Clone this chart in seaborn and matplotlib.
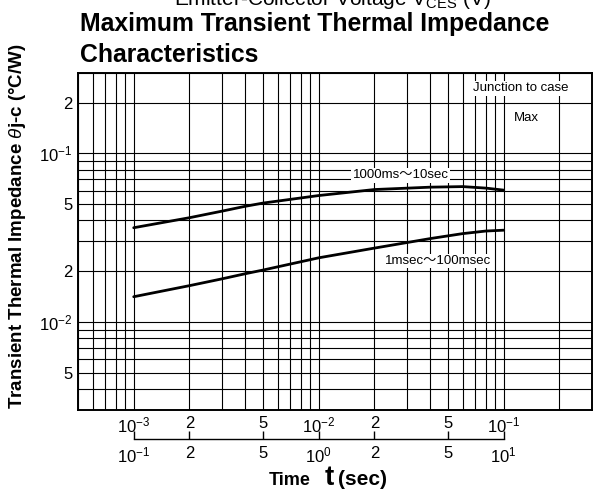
import numpy as np
import pandas as pd
import matplotlib
matplotlib.use("Agg")
import matplotlib.pyplot as plt
import matplotlib.ticker as mticker
import seaborn as sns

# === Curve data (time in sec, impedance in degC/W) ===
t_short = [1e-3, 2e-3, 3e-3, 4e-3, 5e-3, 1e-2, 2e-2, 4e-2, 6e-2, 8e-2, 1e-1]
z_short = [0.0141, 0.0164, 0.0180, 0.0193, 0.0203, 0.0240, 0.0274, 0.0312, 0.0334, 0.0346, 0.0350]

# upper curve is read on the same grid, its own scale is 100x (lower axis)
t_long = [1e-3, 2e-3, 3e-3, 4e-3, 5e-3, 1e-2, 2e-2, 4e-2, 6e-2, 8e-2, 1e-1]
z_long = [0.0362, 0.0415, 0.0454, 0.0485, 0.0507, 0.0562, 0.0610, 0.0630, 0.0635, 0.0622, 0.0605]

x_ticks = [1e-3, 2e-3, 5e-3, 1e-2, 2e-2, 5e-2, 1e-1]
x_labels = ["$10^{-3}$", "2", "5", "$10^{-2}$", "2", "5", "$10^{-1}$"]
x2_ticks = [1e-1, 2e-1, 5e-1, 1e0, 2e0, 5e0, 1e1]
x2_labels = ["$10^{-1}$", "2", "5", "$10^{0}$", "2", "5", "$10^{1}$"]
y_ticks = [2e-1, 1e-1, 5e-2, 2e-2, 1e-2, 5e-3]
y_labels = ["2", "$10^{-1}$", "5", "2", "$10^{-2}$", "5"]

df = pd.concat([
    pd.DataFrame({"t": t_short, "z": z_short, "curve": "1msec~100msec"}),
    pd.DataFrame({"t": t_long, "z": z_long, "curve": "1000ms~10sec"}),
])

# === Style ===
sns.set_theme(style="white")
plt.rcParams["font.family"] = ["Liberation Sans", "Noto Sans CJK JP", "DejaVu Sans"]
plt.rcParams["mathtext.fontset"] = "custom"
plt.rcParams["mathtext.rm"] = "Liberation Sans"
plt.rcParams["mathtext.it"] = "Liberation Sans:italic"
plt.rcParams["mathtext.bf"] = "Liberation Sans:bold"
for key in ["text.color", "axes.labelcolor", "xtick.color", "ytick.color", "axes.edgecolor"]:
    plt.rcParams[key] = "black"

fig = plt.figure(figsize=(5.95, 4.92), dpi=100)
ax = fig.add_axes([0.1311, 0.1667, 0.8639, 0.685])
ax.set_xscale("log")
ax.set_yscale("log")

for name, sub in df.groupby("curve"):
    sns.lineplot(data=sub, x="t", y="z", color="black", linewidth=2.0,
                 sort=False, ax=ax, legend=False)

ax.set_xlim(5e-4, 3e-1)
ax.set_ylim(3e-3, 3e-1)

# full log grid
ax.xaxis.set_minor_locator(mticker.LogLocator(base=10, subs=np.arange(1, 10)))
ax.yaxis.set_minor_locator(mticker.LogLocator(base=10, subs=np.arange(1, 10)))
ax.xaxis.set_minor_formatter(mticker.NullFormatter())
ax.yaxis.set_minor_formatter(mticker.NullFormatter())
ax.grid(which="both", axis="both", color="black", linewidth=0.8)
ax.set_axisbelow(True)

ax.set_xticks(x_ticks)
ax.set_xticklabels(x_labels, fontsize=12)
ax.set_yticks(y_ticks)
ax.set_yticklabels(y_labels, fontsize=12)
ax.tick_params(which="both", length=0, pad=4, colors="black")
for s in ax.spines.values():
    s.set_color("black")
    s.set_linewidth(1.4)

ax.set_xlabel("")
ax.set_ylabel("Transient Thermal Impedance $\\theta$j-c (°C/W)",
              fontsize=13.5, fontweight="bold")
ax.yaxis.set_label_coords(-0.097, 0.546)

# second time scale for the long pulse curve
sec = ax.secondary_xaxis(-0.086, functions=(lambda x: x * 100, lambda x: x / 100))
sec.set_xticks(x2_ticks)
sec.set_xticklabels(x2_labels, fontsize=12)
sec.xaxis.set_minor_locator(mticker.NullLocator())
sec.tick_params(direction="in", length=6, width=1.0, pad=5, colors="black")
sec.spines["bottom"].set_bounds(1e-1, 1e1)
sec.spines["bottom"].set_linewidth(1.0)
sec.spines["bottom"].set_color("black")

# curve labels
box = dict(facecolor="white", edgecolor="none", pad=1.0)
ax.text(0.628, 0.697, "1000ms～10sec", transform=ax.transAxes, fontsize=9.5,
        ha="center", va="center", bbox=box)
ax.text(0.700, 0.442, "1msec～100msec", transform=ax.transAxes, fontsize=9.5,
        ha="center", va="center", bbox=box)
ax.text(0.862, 0.955, "Junction to case", transform=ax.transAxes, fontsize=9.5,
        ha="center", va="center", bbox=box)
ax.text(0.872, 0.866, "Max", transform=ax.transAxes, fontsize=9.5,
        ha="center", va="center")

# titles (the top line is cut off in the source image too)
fig.text(332 / 595, 1 - 5 / 492, "Emitter-Collector Voltage V$_{\\mathrm{CES}}$ (V)",
         fontsize=15, ha="center", va="baseline")
fig.text(80 / 595, 1 - 31 / 492, "Maximum Transient Thermal Impedance",
         fontsize=17.8, fontweight="bold", ha="left", va="baseline")
fig.text(80 / 595, 1 - 62 / 492, "Characteristics",
         fontsize=17.8, fontweight="bold", ha="left", va="baseline")

# x label with big t
fig.text(269 / 595, 1 - 485 / 492, "Time", fontsize=13, fontweight="bold",
         ha="left", va="baseline")
fig.text(325 / 595, 1 - 485 / 492, "t", fontsize=20, fontweight="bold",
         ha="left", va="baseline")
fig.text(338 / 595, 1 - 485 / 492, "(sec)", fontsize=15, fontweight="bold",
         ha="left", va="baseline")

fig.savefig("out.png", dpi=100)
